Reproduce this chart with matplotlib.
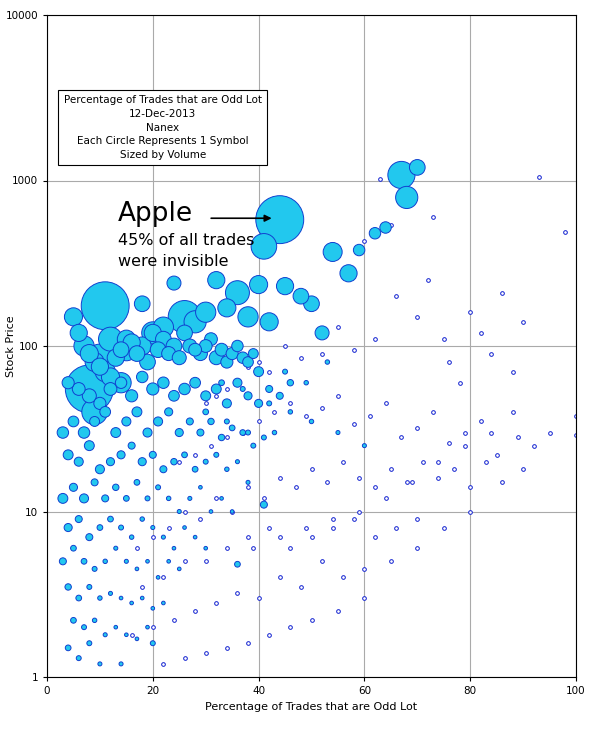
import matplotlib
matplotlib.use("Agg")
import matplotlib.pyplot as plt
import numpy as np

# Filled bubbles: odd-lot %, price, relative volume size
fx = [44,67,68,70,41,11,8,54,57,32,24,18,26,36,40,45,48,12,15,10,9,14,20,22,28,30,34,38,42,50,52,62,59,64,
      5,6,7,8,9,10,11,12,13,14,15,16,17,18,19,20,21,22,23,24,25,26,27,28,29,30,31,32,33,34,35,36,37,38,39,40,
      4,6,8,10,12,14,16,18,20,22,24,26,28,30,32,34,36,38,40,42,44,46,
      3,5,7,9,11,13,15,17,19,21,23,25,27,29,31,33,35,37,39,41,43,
      4,6,8,10,12,14,16,18,20,22,24,26,28,30,32,34,36,38,
      3,5,7,9,11,13,15,17,19,21,23,25,27,29,31,33,35,
      4,6,8,10,12,14,16,18,20,22,24,26,28,30,
      3,5,7,9,11,13,15,17,19,21,23,25,
      4,6,8,10,12,14,16,18,20,22,
      5,7,9,11,13,15,17,19,
      4,6,8,10,14,20,36,41,
      30,34,38,42,46,50,55,60,33,37,45,49,53]
fy = [580,1080,790,1200,400,175,55,370,275,250,240,180,150,210,235,230,200,110,95,85,40,60,120,130,140,160,170,150,140,180,120,480,380,520,
      150,120,100,90,80,75,70,65,85,95,110,105,90,100,80,120,95,110,90,100,85,120,100,95,90,100,110,85,95,80,90,100,85,80,90,70,
      60,55,50,45,55,60,50,65,55,60,50,55,60,50,55,45,60,50,45,55,50,60,
      30,35,30,35,40,30,35,40,30,35,40,30,35,30,35,28,32,30,25,28,30,
      22,20,25,18,20,22,25,20,22,18,20,22,18,20,22,18,20,15,
      12,14,12,15,12,14,12,15,12,14,12,10,12,14,10,12,10,
      8,9,7,8,9,8,7,9,8,7,6,8,7,6,
      5,6,5,4.5,5,6,5,4.5,5,4,5,4.5,
      3.5,3,3.5,3,3.2,3,2.8,3,2.6,2.8,
      2.2,2,2.2,1.8,2,1.8,1.7,2,
      1.5,1.3,1.6,1.2,1.2,1.6,4.8,11,
      40,35,30,45,40,35,30,25,60,55,70,60,80]
fs = [1400,450,300,150,400,1400,1400,220,180,180,120,150,650,350,200,180,150,350,300,450,400,250,300,250,300,250,200,250,200,150,120,80,80,80,
      200,180,250,200,220,180,250,200,180,150,200,180,150,200,150,180,150,150,120,150,120,150,120,100,120,100,100,120,100,90,90,80,80,70,60,60,
      90,100,120,90,100,80,90,80,90,80,70,80,70,60,60,50,50,40,40,30,30,25,
      80,70,80,60,70,60,50,60,50,50,40,40,30,30,25,25,20,20,15,15,12,
      60,50,60,50,40,40,30,40,30,30,25,20,20,15,15,12,10,10,
      60,40,50,30,30,25,20,20,15,15,12,10,10,8,8,8,8,
      40,30,30,20,20,15,12,12,10,10,8,8,8,8,
      30,20,20,15,12,10,10,8,8,8,8,8,
      25,20,15,12,10,8,8,8,8,8,
      20,15,12,10,8,8,8,8,
      20,15,15,10,10,15,20,30,
      20,15,15,15,12,12,10,10,20,15,15,12,12]

# Hollow small points (low-volume symbols)
hx = [93,98,100,100,86,90,80,88,75,73,63,65,60,82,84,78,72,76,70,66,62,58,55,52,48,45,42,40,38,36,34,32,30,
      95,92,89,85,82,79,76,73,70,67,64,61,58,55,52,49,46,43,40,37,34,31,28,25,22,
      90,86,83,80,77,74,71,68,65,62,59,56,53,50,47,44,41,38,35,32,29,26,23,20,17,
      80,75,70,66,62,58,54,50,46,42,38,34,30,26,22,18,
      70,65,60,56,52,48,44,40,36,32,28,24,20,16,
      60,55,50,46,42,38,34,30,26,22,
      88,84,79,74,69,64,59,54,49,44,39]
hy = [1050,490,38,29,210,140,160,70,110,600,1020,540,430,120,90,60,250,80,150,200,110,95,130,90,85,100,70,80,75,60,55,50,45,
      30,25,28,22,35,30,26,40,32,28,45,38,34,50,42,38,45,40,35,30,28,25,22,20,18,
      18,15,20,14,18,16,20,15,18,14,16,20,15,18,14,16,12,14,10,12,9,10,8,7,6,
      10,8,9,8,7,9,8,7,6,8,7,6,5,5,4,3.5,
      6,5,4.5,4,5,3.5,4,3,3.2,2.8,2.5,2.2,2,1.8,
      3,2.5,2.2,2,1.8,1.6,1.5,1.4,1.3,1.2,
      40,30,25,20,15,12,10,9,8,7,6]

fig = plt.figure(figsize=(5.97, 7.41), dpi=100)
ax = fig.add_axes([47/597, 1-677/741, 529/597, 662/741])
ax.set_yscale('log')
ax.set_xlim(0, 100)
ax.set_ylim(1, 10000)
ax.grid(True, which='major', color='#aaaaaa', lw=0.8)
ax.set_axisbelow(True)

ax.scatter(hx, hy, s=7, facecolor='white', edgecolor='#1020d0', lw=0.7, zorder=2)
order = np.argsort(fs)[::-1]
ax.scatter(np.array(fx)[order], np.array(fy)[order], s=np.array(fs)[order]*0.85,
           facecolor='#22c8ee', edgecolor='#1040d0', lw=0.7, zorder=3)

ax.set_xticks([0,20,40,60,80,100])
ax.set_yticks([1,10,100,1000,10000])
ax.set_yticklabels(['1','10','100','1000','10000'])
ax.minorticks_off()
ax.tick_params(labelsize=7.5, length=3)
ax.set_xlabel('Percentage of Trades that are Odd Lot', fontsize=8)
ax.set_ylabel('Stock Price', fontsize=8)
ax.yaxis.set_label_coords(-0.058, 0.5)

ax.text(0.219, 0.83, 'Percentage of Trades that are Odd Lot\n12-Dec-2013\nNanex\nEach Circle Represents 1 Symbol\nSized by Volume',
        transform=ax.transAxes, ha='center', va='center', fontsize=7.5, linespacing=1.45,
        bbox=dict(facecolor='white', edgecolor='black', lw=0.8, pad=4), zorder=5)
ax.text(0.134, 0.70, 'Apple', transform=ax.transAxes, fontsize=19, va='center', zorder=5)
ax.annotate('', xy=(0.43, 0.693), xytext=(0.305, 0.693), xycoords='axes fraction',
            arrowprops=dict(arrowstyle='-|>', color='black', lw=1.2), zorder=5)
ax.text(0.134, 0.66, '45% of all trades', transform=ax.transAxes, fontsize=11.5, va='center', zorder=5)
ax.text(0.134, 0.627, 'were invisible', transform=ax.transAxes, fontsize=11.5, va='center', zorder=5)

fig.savefig('out.png', dpi=100)
